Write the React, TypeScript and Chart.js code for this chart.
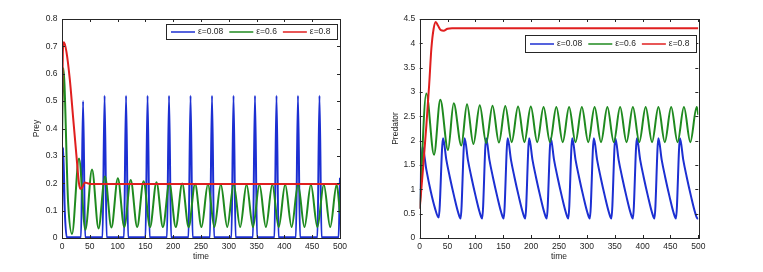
import React, { useEffect, useRef } from 'react';
import { Chart, registerables } from 'chart.js';

Chart.register(...registerables);

// ---------- data ----------
const TIME_TICKS = [0, 50, 100, 150, 200, 250, 300, 350, 400, 450, 500];
const PREY_TICKS = [0, 0.1, 0.2, 0.3, 0.4, 0.5, 0.6, 0.7, 0.8];
const PRED_TICKS = [0, 0.5, 1, 1.5, 2, 2.5, 3, 3.5, 4, 4.5];
const LEGEND_LABELS = ['ε=0.08', 'ε=0.6', 'ε=0.8'];
const SERIES_COLORS = ['#1c2fd2', '#1f8a1f', '#e01f1f'];

// Prey, epsilon = 0.08 : [time, value]
const PREY_E008: [number, number][] = [
  [0, 0.1], [2, 0.33], [5, 0.1], [8.5, 0.003],
  [34.2, 0.003], [37.9, 0.5], [41.6, 0.003],
  [72.9, 0.003], [76.6, 0.52], [80.3, 0.003],
  [111.5, 0.003], [115.2, 0.52], [118.9, 0.003],
  [150.2, 0.003], [153.9, 0.52], [157.6, 0.003],
  [188.8, 0.003], [192.5, 0.52], [196.2, 0.003],
  [227.5, 0.003], [231.2, 0.52], [234.9, 0.003],
  [266.1, 0.003], [269.8, 0.52], [273.5, 0.003],
  [304.8, 0.003], [308.5, 0.52], [312.2, 0.003],
  [343.4, 0.003], [347.1, 0.52], [350.8, 0.003],
  [382.1, 0.003], [385.8, 0.52], [389.5, 0.003],
  [420.7, 0.003], [424.4, 0.52], [428.1, 0.003],
  [459.4, 0.003], [463.1, 0.52], [466.8, 0.003],
  [497.5, 0.003], [500, 0.22],
];

// Prey, epsilon = 0.6
const PREY_E06: [number, number][] = [
  [0, 0.35], [2.4, 0.62], [11, 0.13], [18, 0.015], [30.6, 0.29], [42, 0.03],
  [54, 0.25], [65.7, 0.035], [77.3, 0.225], [88.9, 0.038], [100.45, 0.218],
  [112, 0.04], [123.6, 0.212], [135.2, 0.04], [146.75, 0.207], [158.3, 0.04],
  [169.9, 0.204], [181.5, 0.04], [193.05, 0.2], [204.6, 0.04], [216.2, 0.199],
  [227.8, 0.04], [239.35, 0.198], [250.9, 0.04], [262.5, 0.197], [274.1, 0.04],
  [285.65, 0.196], [297.2, 0.04], [308.8, 0.196], [320.4, 0.04], [331.95, 0.195],
  [343.5, 0.04], [355.1, 0.195], [366.7, 0.04], [378.25, 0.195], [389.8, 0.04],
  [401.4, 0.195], [413, 0.04], [424.55, 0.195], [436.1, 0.04], [447.7, 0.195],
  [459.3, 0.04], [470.85, 0.195], [482.4, 0.04], [494, 0.195], [500, 0.09],
];

// Prey, epsilon = 0.8
const PREY_E08: [number, number][] = [
  [0, 0.45], [1.5, 0.68], [3.6, 0.715], [8, 0.68], [14, 0.58], [20, 0.44],
  [26, 0.3], [30.5, 0.2], [33, 0.18], [36, 0.183], [41, 0.203], [46, 0.2],
  [52, 0.197], [500, 0.197],
];

// Predator, epsilon = 0.08
const PRED_E008: [number, number][] = [
  [0, 0.6], [2, 1.3], [5, 1.88], [12, 1.4], [20, 0.95], [27, 0.63], [34.1, 0.42],
  [41.9, 2.05], [47.9, 1.6], [53.9, 1.26], [61.9, 0.85], [68.9, 0.53], [73.4, 0.4],
  [80.6, 2.05], [86.6, 1.6], [92.6, 1.26], [100.6, 0.85], [107.6, 0.53], [112.1, 0.4],
  [119.2, 2.05], [125.2, 1.6], [131.2, 1.26], [139.2, 0.85], [146.2, 0.53], [150.7, 0.4],
  [157.9, 2.05], [163.9, 1.6], [169.9, 1.26], [177.9, 0.85], [184.9, 0.53], [189.4, 0.4],
  [196.5, 2.05], [202.5, 1.6], [208.5, 1.26], [216.5, 0.85], [223.5, 0.53], [228, 0.4],
  [235.2, 2.05], [241.2, 1.6], [247.2, 1.26], [255.2, 0.85], [262.2, 0.53], [266.7, 0.4],
  [273.8, 2.05], [279.8, 1.6], [285.8, 1.26], [293.8, 0.85], [300.8, 0.53], [305.3, 0.4],
  [312.5, 2.05], [318.5, 1.6], [324.5, 1.26], [332.5, 0.85], [339.5, 0.53], [344, 0.4],
  [351.1, 2.05], [357.1, 1.6], [363.1, 1.26], [371.1, 0.85], [378.1, 0.53], [382.6, 0.4],
  [389.8, 2.05], [395.8, 1.6], [401.8, 1.26], [409.8, 0.85], [416.8, 0.53], [421.3, 0.4],
  [428.4, 2.05], [434.4, 1.6], [440.4, 1.26], [448.4, 0.85], [455.4, 0.53], [459.9, 0.4],
  [467.1, 2.05], [473.1, 1.6], [479.1, 1.26], [487.1, 0.85], [494.1, 0.53], [498.6, 0.4],
  [500, 0.41],
];

// Predator, epsilon = 0.6
const PRED_E06: [number, number][] = [
  [0, 0.6], [11.9, 2.97], [25.7, 1.71], [37, 2.84], [50.8, 1.81], [61, 2.77],
  [74.7, 1.9], [84.9, 2.75], [96.4, 1.93], [107.8, 2.73], [119.3, 1.95],
  [130.7, 2.72], [142.2, 1.96], [153.6, 2.71], [165.1, 1.97], [176.5, 2.7],
  [188, 1.97], [199.4, 2.7], [210.9, 1.97], [222.3, 2.69], [233.8, 1.97],
  [245.2, 2.69], [256.7, 1.97], [268.1, 2.69], [279.6, 1.97], [291, 2.69],
  [302.5, 1.97], [313.9, 2.69], [325.4, 1.97], [336.8, 2.69], [348.3, 1.97],
  [359.7, 2.69], [371.2, 1.97], [382.6, 2.69], [394.1, 1.97], [405.5, 2.69],
  [417, 1.97], [428.4, 2.69], [439.9, 1.97], [451.3, 2.69], [462.8, 1.97],
  [474.2, 2.69], [485.7, 1.97], [497.1, 2.69], [500, 2.53],
];

// Predator, epsilon = 0.8
const PRED_E08: [number, number][] = [
  [0, 0.6], [6, 1.43], [12, 2.32], [17, 3.15], [21, 3.9], [25, 4.3], [28.7, 4.44],
  [33, 4.36], [38, 4.27], [43, 4.26], [50, 4.3], [58, 4.31], [500, 4.31],
];

// ---------- styling ----------
const FONT_FAMILY = '"Liberation Sans", Arial, Helvetica, sans-serif';
const TEXT_COLOR = '#262626';
const FRAME_COLOR = '#262626';

const framePlugin = {
  id: 'matlabFrame',
  afterDatasetsDraw(chart: any) {
    const { ctx, chartArea: a, scales } = chart;
    const len = 3;
    ctx.save();
    ctx.strokeStyle = FRAME_COLOR;
    ctx.lineWidth = 1;
    ctx.beginPath();
    for (const v of TIME_TICKS) {
      const px = Math.round(scales.x.getPixelForValue(v)) + 0.5;
      ctx.moveTo(px, a.bottom);
      ctx.lineTo(px, a.bottom - len);
      ctx.moveTo(px, a.top);
      ctx.lineTo(px, a.top + len);
    }
    for (const t of scales.y.ticks) {
      const py = Math.round(scales.y.getPixelForValue(t.value)) + 0.5;
      ctx.moveTo(a.left, py);
      ctx.lineTo(a.left + len, py);
      ctx.moveTo(a.right, py);
      ctx.lineTo(a.right - len, py);
    }
    ctx.stroke();
    ctx.strokeRect(Math.round(a.left) + 0.5, Math.round(a.top) + 0.5,
      Math.round(a.right - a.left), Math.round(a.bottom - a.top));
    ctx.restore();
  },
};

const legendPlugin = {
  id: 'boxLegend',
  afterDraw(chart: any, _args: any, opts: any) {
    const { ctx } = chart;
    const { x, y, w, h } = opts;
    ctx.save();
    ctx.fillStyle = '#ffffff';
    ctx.fillRect(x, y, w, h);
    ctx.strokeStyle = FRAME_COLOR;
    ctx.lineWidth = 1;
    ctx.strokeRect(Math.round(x) + 0.5, Math.round(y) + 0.5, Math.round(w), Math.round(h));
    ctx.font = `8.5px ${FONT_FAMILY}`;
    ctx.textBaseline = 'middle';
    ctx.textAlign = 'left';
    const cy = y + h / 2 + 0.5;
    let cx = x + 5;
    chart.data.datasets.forEach((ds: any) => {
      ctx.strokeStyle = ds.borderColor;
      ctx.lineWidth = 1.5;
      ctx.beginPath();
      ctx.moveTo(cx, cy);
      ctx.lineTo(cx + 24, cy);
      ctx.stroke();
      cx += 27;
      ctx.fillStyle = TEXT_COLOR;
      ctx.fillText(ds.label, cx, cy);
      cx += ctx.measureText(ds.label).width + 6;
    });
    ctx.restore();
  },
};

type ChartSpec = {
  series: [number, number][][];
  yTicks: number[];
  yMax: number;
  yTitle: string;
  yAxisWidth: number;
  yTitleOffset: number;
  padRight: number;
  legend: { x: number; y: number; w: number; h: number };
};

function makeChart(canvas: HTMLCanvasElement, spec: ChartSpec) {
  const font = { family: FONT_FAMILY, size: 8.5 };
  return new Chart(canvas, {
    type: 'line',
    data: {
      datasets: spec.series.map((s, i) => ({
        label: LEGEND_LABELS[i],
        data: s.map(([x, y]) => ({ x, y })),
        borderColor: SERIES_COLORS[i],
        backgroundColor: SERIES_COLORS[i],
        borderWidth: 2,
        pointRadius: 0,
        fill: false,
        cubicInterpolationMode: 'monotone',
        order: 2 - i,
      })),
    },
    options: {
      responsive: false,
      animation: false,
      devicePixelRatio: 1,
      events: [],
      layout: { padding: { left: 0, top: 19, right: spec.padRight, bottom: 0 } },
      plugins: {
        legend: { display: false },
        tooltip: { enabled: false },
        boxLegend: spec.legend,
      } as any,
      scales: {
        x: {
          type: 'linear',
          min: 0,
          max: 500,
          afterBuildTicks: (s: any) => { s.ticks = TIME_TICKS.map((v) => ({ value: v })); },
          afterFit: (s: any) => { s.height = 34; },
          grid: { display: false, drawTicks: false, tickLength: 0 },
          border: { display: false },
          ticks: { autoSkip: false, maxRotation: 0, padding: 3.5, font, color: TEXT_COLOR, callback: (v: any) => String(v) },
          title: { display: true, text: 'time', font, color: TEXT_COLOR, padding: { top: 0, bottom: 10.5 } },
        },
        y: {
          type: 'linear',
          min: 0,
          max: spec.yMax,
          afterBuildTicks: (s: any) => { s.ticks = spec.yTicks.map((v) => ({ value: v })); },
          afterFit: (s: any) => { s.width = spec.yAxisWidth; },
          grid: { display: false, drawTicks: false, tickLength: 0 },
          border: { display: false },
          ticks: { autoSkip: false, padding: 4.5, font, color: TEXT_COLOR, callback: (v: any) => String(v) },
          title: { display: true, text: spec.yTitle, font, color: TEXT_COLOR, padding: { top: spec.yTitleOffset, bottom: 0 } },
        },
      },
    } as any,
    plugins: [framePlugin, legendPlugin],
  });
}

function PlotPanel({ spec, left, width }: { spec: ChartSpec; left: number; width: number }) {
  const ref = useRef<HTMLCanvasElement | null>(null);
  useEffect(() => {
    if (!ref.current) return;
    const chart = makeChart(ref.current, spec);
    return () => chart.destroy();
  }, [spec]);
  return (
    <canvas
      ref={ref}
      width={width}
      height={272}
      style={{ position: 'absolute', left, top: 0, width, height: 272 }}
    />
  );
}

const PREY_SPEC: ChartSpec = {
  series: [PREY_E008, PREY_E06, PREY_E08],
  yTicks: PREY_TICKS,
  yMax: 0.8,
  yTitle: 'Prey',
  yAxisWidth: 62,
  yTitleOffset: 32,
  padRight: 41,
  legend: { x: 166, y: 24, w: 171, h: 15 },
};

const PRED_SPEC: ChartSpec = {
  series: [PRED_E008, PRED_E06, PRED_E08],
  yTicks: PRED_TICKS,
  yMax: 4.5,
  yTitle: 'Predator',
  yAxisWidth: 36.7,
  yTitleOffset: 8,
  padRight: 64.7,
  legend: { x: 142, y: 35, w: 171, h: 17 },
};

export default function App() {
  return (
    <div style={{ position: 'absolute', left: 0, top: 0, width: 763, height: 272, background: '#ffffff', overflow: 'hidden' }}>
      <PlotPanel spec={PREY_SPEC} left={0} width={381} />
      <PlotPanel spec={PRED_SPEC} left={383} width={380} />
    </div>
  );
}
